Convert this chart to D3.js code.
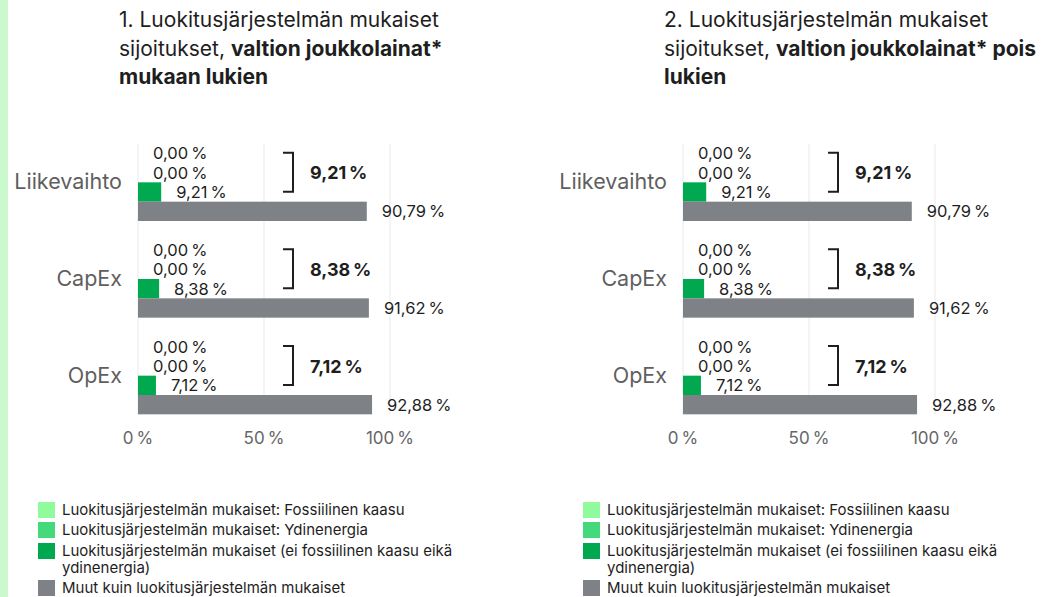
<!DOCTYPE html>
<html>
<head>
<meta charset="utf-8">
<script src="https://cdn.jsdelivr.net/npm/d3@7"></script>
<style>
  body { margin: 0; background: #fff; }
  svg { display: block; font-family: Inter, "Noto Sans", sans-serif; }
</style>
</head>
<body>
<div id="chart"></div>
<script>
// --- data ---------------------------------------
var categories = ["Liikevaihto", "CapEx", "OpEx"]
var seriesNames = [
  "Luokitusjärjestelmän mukaiset: Fossiilinen kaasu",
  "Luokitusjärjestelmän mukaiset: Ydinenergia",
  "Luokitusjärjestelmän mukaiset (ei fossiilinen kaasu eikä ydinenergia)",
  "Muut kuin luokitusjärjestelmän mukaiset"
]
var fossilValues = [0.00, 0.00, 0.00]
var nuclearValues = [0.00, 0.00, 0.00]
var alignedValues = [9.21, 8.38, 7.12]
var otherValues = [90.79, 91.62, 92.88]
var totalAligned = [9.21, 8.38, 7.12]
var xTicks = [0, 50, 100]
var panels = [
  { lines: [[["1. Luokitusjärjestelmän mukaiset", false]],
            [["sijoitukset, ", false], ["valtion joukkolainat*", true]],
            [["mukaan lukien", true]]] },
  { lines: [[["2. Luokitusjärjestelmän mukaiset", false]],
            [["sijoitukset, ", false], ["valtion joukkolainat* pois", true]],
            [["lukien", true]]] }
]

var colors = ["#8ffb9d", "#44d97b", "#00a94f", "#7e8286"]
var fmt = v => d3.format(".2f")(v).replace(".", ",") + "\u2009%"

var W = 1047, H = 597
var svg = d3.select("#chart").append("svg").attr("width", W).attr("height", H)

// green strip at the left edge
svg.append("rect").attr("x", 0).attr("y", 0).attr("width", 8).attr("height", H).attr("fill", "#c9f9cd")

var series = [fossilValues, nuclearValues, alignedValues, otherValues]

panels.forEach((p, pi) => {
  var ox = pi * 545
  var g = svg.append("g").attr("transform", `translate(${ox},0)`)

  // title
  var title = g.append("text").attr("x", 119).attr("y", 27)
    .attr("font-size", 21).attr("fill", "#1e1e1e")
  p.lines.forEach((line, li) => {
    line.forEach((part, k) => {
      var t = title.append("tspan").text(part[0])
        .attr("font-weight", part[1] ? 700 : 400)
      if (k === 0) t.attr("x", 119).attr("dy", li === 0 ? 0 : 28.5)
    })
  })

  var x = d3.scaleLinear().domain([0, 100]).range([138, 390])
  var y = d3.scaleBand().domain(categories).range([134, 424]).paddingInner(0.2).paddingOuter(0.1)
  var yi = d3.scaleBand().domain(d3.range(4)).range([0, y.bandwidth()])

  // gridlines
  g.append("g").selectAll("line").data(xTicks).join("line")
    .attr("x1", d => x(d)).attr("x2", d => x(d))
    .attr("y1", y(categories[0])).attr("y2", y(categories[2]) + y.bandwidth())
    .attr("stroke", "#e9e9e9").attr("stroke-width", 1)

  // tick labels
  g.append("g").selectAll("text").data(xTicks).join("text")
    .attr("x", d => x(d)).attr("y", 444)
    .attr("text-anchor", "middle").attr("font-size", 17).attr("fill", "#666")
    .text(d => d + "\u2009%")

  // category labels
  g.append("g").selectAll("text").data(categories).join("text")
    .attr("x", 122).attr("y", d => y(d) + y.bandwidth() / 2 + 7)
    .attr("text-anchor", "end").attr("font-size", 21.5).attr("fill", "#5f5f5f")
    .text(d => d)

  categories.forEach((c, ci) => {
    var gc = g.append("g").attr("transform", `translate(0,${y(c)})`)
    series.forEach((vals, si) => {
      var v = vals[ci]
      gc.append("rect")
        .attr("x", x(0)).attr("y", yi(si))
        .attr("width", x(v) - x(0)).attr("height", yi.bandwidth())
        .attr("fill", colors[si])
      gc.append("text")
        .attr("x", x(v) + 15).attr("y", yi(si) + yi.bandwidth() / 2 + 6)
        .attr("font-size", 16.5).attr("fill", "#1e1e1e")
        .text(fmt(v))
    })

    // bracket grouping the aligned parts
    var bx = x(50) + 29, top = yi(0) + 9, bot = yi(2) + yi.bandwidth() - 10
    gc.append("path")
      .attr("d", `M${bx - 10},${top}H${bx}V${bot}H${bx - 10}`)
      .attr("fill", "none").attr("stroke", "#1e1e1e").attr("stroke-width", 2)
    gc.append("text")
      .attr("x", bx + 17).attr("y", (top + bot) / 2 + 7)
      .attr("font-size", 18).attr("font-weight", 700).attr("fill", "#1e1e1e")
      .text(fmt(totalAligned[ci]))
  })

  // legend
  var legY = [502, 522, 543, 580]
  var leg = g.append("g").attr("transform", "translate(38,0)")
  seriesNames.forEach((name, si) => {
    leg.append("rect").attr("x", 0).attr("y", legY[si]).attr("width", 17).attr("height", 16)
      .attr("fill", colors[si])
    var t = leg.append("text").attr("x", 24).attr("y", legY[si] + 13)
      .attr("font-size", 15).attr("fill", "#1e1e1e")
    if (si === 2) {
      t.append("tspan").attr("x", 24).text("Luokitusjärjestelmän mukaiset (ei fossiilinen kaasu eikä")
      t.append("tspan").attr("x", 24).attr("dy", 17).text("ydinenergia)")
    } else {
      t.text(name)
    }
  })
})
</script>
</body>
</html>
